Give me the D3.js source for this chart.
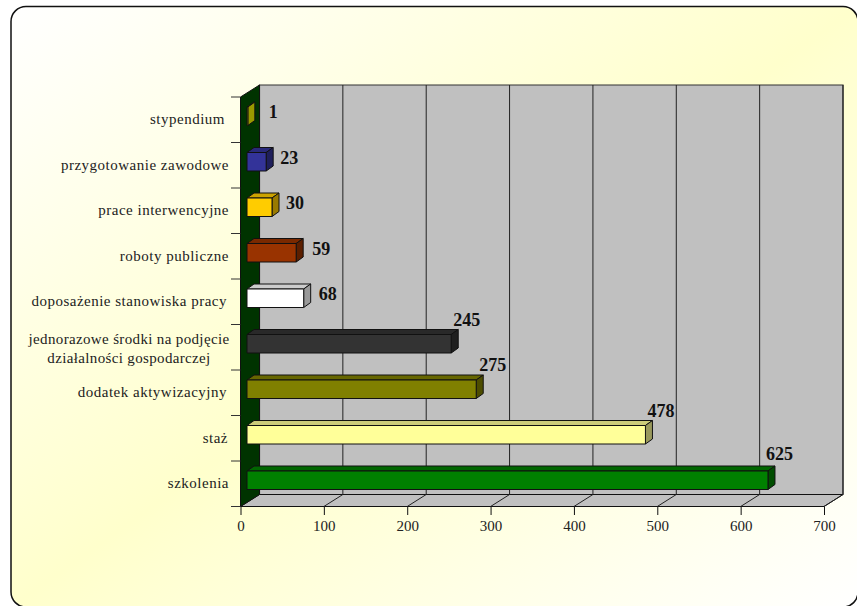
<!DOCTYPE html>
<html>
<head>
<meta charset="utf-8">
<style>
  html, body { margin: 0; padding: 0; background: #fff; }
  svg { display: block; }
  text { font-family: "Liberation Serif", serif; }
</style>
</head>
<body>
<svg></svg>
<script src="https://cdn.jsdelivr.net/npm/d3@7"></script>
<script>
// top to bottom, as on the chart
var categories = [
  ["stypendium"],
  ["przygotowanie zawodowe"],
  ["prace interwencyjne"],
  ["roboty publiczne"],
  ["doposażenie stanowiska pracy"],
  ["jednorazowe środki na podjęcie", "działalności gospodarczej"],
  ["dodatek aktywizacyjny"],
  ["staż"],
  ["szkolenia"]
];
var values = [1, 23, 30, 59, 68, 245, 275, 478, 625];
var barColors = ["#ffff00", "#333399", "#ffcc00", "#993300", "#ffffff", "#333333", "#808000", "#ffff99", "#008000"];
var xTicks = [0, 100, 200, 300, 400, 500, 600, 700];

var svgWidth = 857, svgHeight = 606;
var left = 240.5, right = 824, top_ = 97, bottom = 506.5;
var depthX = 19, depthY = 12;      // depth of the whole 3d box
var barDepthX = 7, barDepthY = 5;  // depth of one bar
var barOffX = 6.5, barOffY = 10, barH = 18.5;
var catNudge = [-4, 0, 0, 0, -2, 0, -2, -1, 0];  // labels that sit short of the axis
var valNudge = [0, 0, 0, 2, 1, 0, 1, 0, -4];     // value labels were placed by hand

var svg = d3.select("svg")
    .attr("width", svgWidth)
    .attr("height", svgHeight);

var grad = svg.append("defs").append("linearGradient")
    .attr("id", "bg")
    .attr("x1", 0).attr("y1", 0).attr("x2", 1).attr("y2", 1);
grad.append("stop").attr("offset", 0).attr("stop-color", "#ffffff");
grad.append("stop").attr("offset", 0.5).attr("stop-color", "#ffffcc");
grad.append("stop").attr("offset", 1).attr("stop-color", "#ffffff");

svg.append("rect")
    .attr("x", 11).attr("y", 6.5)
    .attr("width", 847).attr("height", 600.5)
    .attr("rx", 15).attr("ry", 15)
    .attr("fill", "url(#bg)")
    .attr("stroke", "#111")
    .attr("stroke-width", 1.5);

var x = d3.scaleLinear().domain([0, 700]).range([left, right]);
var y = d3.scaleBand().domain(d3.range(categories.length)).range([top_, bottom]);

function poly(pts) {
  return d3.line()(pts) + "Z";
}

function shade(c, k) {
  var r = d3.rgb(c);
  return d3.rgb(r.r * k, r.g * k, r.b * k).formatHex();
}

// back wall
svg.append("path")
    .attr("d", poly([[left + depthX, top_ - depthY], [right + depthX, top_ - depthY], [right + depthX, bottom - depthY], [left + depthX, bottom - depthY]]))
    .attr("fill", "#c0c0c0")
    .attr("stroke", "#333")
    .attr("stroke-width", 1.2);

// floor
svg.append("path")
    .attr("d", poly([[left, bottom], [right, bottom], [right + depthX, bottom - depthY], [left + depthX, bottom - depthY]]))
    .attr("fill", "#c0c0c0")
    .attr("stroke", "#111")
    .attr("stroke-width", 1);

// side wall
svg.append("path")
    .attr("d", poly([[left, top_], [left + depthX, top_ - depthY], [left + depthX, bottom - depthY], [left, bottom]]))
    .attr("fill", "#003300")
    .attr("stroke", "#111")
    .attr("stroke-width", 1);

// grid lines, wall and floor
svg.selectAll(".grid")
    .data(xTicks.slice(1))
    .enter()
    .append("path")
    .attr("class", "grid")
    .attr("d", function(d) {
      return d3.line()([[x(d), bottom], [x(d) + depthX, bottom - depthY], [x(d) + depthX, top_ - depthY]]);
    })
    .attr("fill", "none")
    .attr("stroke", "#222")
    .attr("stroke-width", 1);

// value axis
var xAxis = svg.append("g")
    .attr("transform", "translate(0," + bottom + ")")
    .call(d3.axisBottom(x).tickValues(xTicks).tickSize(8.5).tickPadding(5).tickFormat(d3.format("d")));
xAxis.select(".domain").remove();
xAxis.selectAll("line").attr("stroke", "#111");
xAxis.selectAll("text")
    .attr("fill", "#222")
    .style("font-family", '"Liberation Serif", serif')
    .style("font-size", "15px");

// category ticks
svg.selectAll(".catTick")
    .data(d3.range(categories.length + 1))
    .enter()
    .append("line")
    .attr("class", "catTick")
    .attr("x1", left - 9.5)
    .attr("x2", left)
    .attr("y1", function(d) { return d < categories.length ? y(d) : bottom; })
    .attr("y2", function(d) { return d < categories.length ? y(d) : bottom; })
    .attr("stroke", "#333");

// bars
var bars = svg.selectAll(".bar")
    .data(values)
    .enter()
    .append("g")
    .attr("class", "bar")
    .attr("stroke", "#111")
    .attr("stroke-width", 1)
    .attr("stroke-linejoin", "round");

function bx0() { return left + barOffX; }
function bx1(d) { return x(d) + barOffX; }
function by0(i) { return y(i) + barOffY; }

bars.append("path")
    .attr("d", function(d, i) {
      return poly([[bx0(), by0(i)], [bx0() + barDepthX, by0(i) - barDepthY], [bx1(d) + barDepthX, by0(i) - barDepthY], [bx1(d), by0(i)]]);
    })
    .attr("fill", function(d, i) { return shade(barColors[i], 0.8); });

bars.append("path")
    .attr("d", function(d, i) {
      return poly([[bx1(d), by0(i)], [bx1(d) + barDepthX, by0(i) - barDepthY], [bx1(d) + barDepthX, by0(i) + barH - barDepthY], [bx1(d), by0(i) + barH]]);
    })
    .attr("fill", function(d, i) { return shade(barColors[i], 0.6); });

bars.append("path")
    .attr("d", function(d, i) {
      return poly([[bx0(), by0(i)], [bx1(d), by0(i)], [bx1(d), by0(i) + barH], [bx0(), by0(i) + barH]]);
    })
    .attr("fill", function(d, i) { return barColors[i]; });

// value labels: short bars beside the bar, long bars above its end
svg.selectAll(".val")
    .data(values)
    .enter()
    .append("text")
    .attr("class", "val")
    .attr("x", function(d, i) {
      return (d < 100 ? bx1(d) + barDepthX + (d < 10 ? 14 : 7) : bx1(d) + barDepthX + 22) + valNudge[i];
    })
    .attr("y", function(d, i) {
      return d < 100 ? by0(i) + 11 : by0(i) - (d > 600 ? 11 : 9);
    })
    .attr("text-anchor", function(d) { return d < 100 ? "start" : "end"; })
    .attr("font-size", "18px")
    .attr("font-weight", "bold")
    .attr("fill", "#111")
    .text(function(d) { return d; });

// category labels
var cats = svg.selectAll(".cat")
    .data(categories)
    .enter()
    .append("text")
    .attr("class", "cat")
    .attr("font-size", "15px")
    .attr("letter-spacing", function(d) { return d.length > 1 ? "0.35px" : "0.5px"; })
    .attr("fill", "#222")
    .attr("text-anchor", function(d) { return d.length > 1 ? "middle" : "end"; })
    .attr("y", function(d, i) { return y(i) + y.bandwidth() / 2 + (d.length > 1 ? -3 : 4.5); });

cats.each(function(d, i) {
  d3.select(this).selectAll("tspan")
      .data(d)
      .enter()
      .append("tspan")
      .attr("x", d.length > 1 ? 129 : 229 + catNudge[i])
      .attr("dy", function(t, j) { return j ? 19 : 0; })
      .text(function(t) { return t; });
});
</script>
</body>
</html>
